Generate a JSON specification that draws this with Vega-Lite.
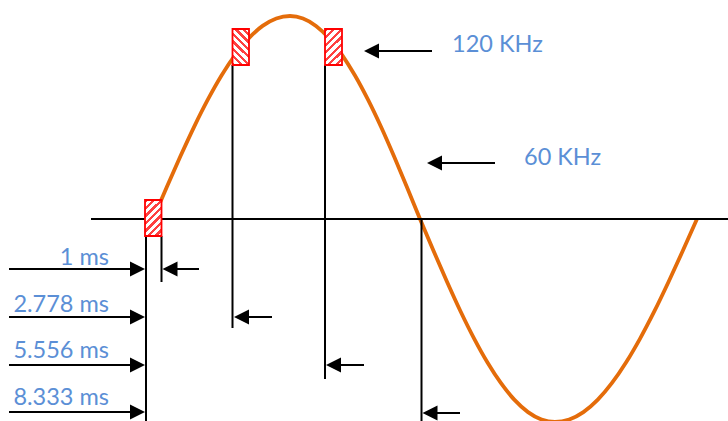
{
  "$schema": "https://vega.github.io/schema/vega-lite/v6.json",
  "width": 728,
  "height": 421,
  "autosize": {"type": "none"},
  "padding": 0,
  "background": "white",
  "config": {"view": {"stroke": null}},
  "datasets": {
    "curve": [
      {"x": 153, "y": 219}, {"x": 166.7, "y": 187.2}, {"x": 180.4, "y": 156.3}, {"x": 194.1, "y": 126.8},
      {"x": 207.8, "y": 99.7}, {"x": 221.5, "y": 75.5}, {"x": 235.2, "y": 54.8}, {"x": 248.9, "y": 38.1},
      {"x": 262.6, "y": 25.9}, {"x": 276.3, "y": 18.5}, {"x": 290, "y": 16},
      {"x": 303, "y": 18.5}, {"x": 316, "y": 25.9}, {"x": 329, "y": 38.1}, {"x": 342, "y": 54.8},
      {"x": 355, "y": 75.5}, {"x": 368, "y": 99.7}, {"x": 381, "y": 126.8}, {"x": 394, "y": 156.3},
      {"x": 407, "y": 187.2}, {"x": 420, "y": 219},
      {"x": 433.5, "y": 250.8}, {"x": 447, "y": 281.7}, {"x": 460.5, "y": 311.2}, {"x": 474, "y": 338.3},
      {"x": 487.5, "y": 362.5}, {"x": 501, "y": 383.2}, {"x": 514.5, "y": 399.9}, {"x": 528, "y": 412.1},
      {"x": 541.5, "y": 419.5}, {"x": 555, "y": 422},
      {"x": 569.2, "y": 419.5}, {"x": 583.4, "y": 412.1}, {"x": 597.6, "y": 399.9}, {"x": 611.8, "y": 383.2},
      {"x": 626, "y": 362.5}, {"x": 640.2, "y": 338.3}, {"x": 654.4, "y": 311.2}, {"x": 668.6, "y": 281.7},
      {"x": 682.8, "y": 250.8}, {"x": 697, "y": 219}
    ],
    "segs": [
      {"x": 91, "x2": 728, "y": 219, "y2": 219},
      {"x": 146, "x2": 146, "y": 236, "y2": 421},
      {"x": 161.5, "x2": 161.5, "y": 236, "y2": 282},
      {"x": 232.5, "x2": 232.5, "y": 65, "y2": 328},
      {"x": 325, "x2": 325, "y": 65, "y2": 379},
      {"x": 421.5, "x2": 421.5, "y": 219, "y2": 421},
      {"x": 9, "x2": 138, "y": 269, "y2": 269},
      {"x": 9, "x2": 138, "y": 317, "y2": 317},
      {"x": 9, "x2": 138, "y": 365, "y2": 365},
      {"x": 9, "x2": 138, "y": 412, "y2": 412},
      {"x": 170, "x2": 199, "y": 269, "y2": 269},
      {"x": 242, "x2": 272, "y": 317, "y2": 317},
      {"x": 334, "x2": 364, "y": 365, "y2": 365},
      {"x": 430, "x2": 460, "y": 413, "y2": 413},
      {"x": 372, "x2": 432, "y": 51, "y2": 51},
      {"x": 435, "x2": 495, "y": 163, "y2": 163}
    ],
    "headsR": [
      {"x": 145, "y": 269}, {"x": 145, "y": 317}, {"x": 145, "y": 365}, {"x": 145, "y": 412}
    ],
    "headsL": [
      {"x": 162.5, "y": 269}, {"x": 234, "y": 317}, {"x": 326, "y": 365}, {"x": 422.5, "y": 413},
      {"x": 364, "y": 51}, {"x": 427, "y": 163}
    ],
    "rectsA": [
      {"x": 145, "x2": 161.5, "y": 200, "y2": 236},
      {"x": 325, "x2": 342, "y": 29, "y2": 65}
    ],
    "rectsB": [
      {"x": 232.5, "x2": 249, "y": 29, "y2": 65}
    ],
    "labelsR": [
      {"x": 109, "y": 265, "text": "1 ms"},
      {"x": 109, "y": 312, "text": "2.778 ms"},
      {"x": 109, "y": 358, "text": "5.556 ms"},
      {"x": 109, "y": 405, "text": "8.333 ms"}
    ],
    "labelsL": [
      {"x": 452, "y": 52, "text": "120 KHz"},
      {"x": 524, "y": 165, "text": "60 KHz"}
    ]
  },
  "layer": [
    {
      "data": {"name": "curve"},
      "mark": {"type": "line", "color": "#E46C0A", "strokeWidth": 3.8, "interpolate": "monotone", "clip": false},
      "encoding": {
        "x": {"field": "x", "type": "quantitative", "scale": {"domain": [0, 728], "nice": false, "zero": false}, "axis": null},
        "y": {"field": "y", "type": "quantitative", "scale": {"domain": [0, 421], "nice": false, "zero": false, "reverse": true}, "axis": null},
        "order": {"field": "x", "type": "quantitative"}
      }
    },
    {
      "data": {"name": "segs"},
      "mark": {"type": "rule", "color": "black", "strokeWidth": 2},
      "encoding": {
        "x": {"field": "x", "type": "quantitative"},
        "x2": {"field": "x2"},
        "y": {"field": "y", "type": "quantitative"},
        "y2": {"field": "y2"}
      }
    },
    {
      "data": {"name": "rectsA"},
      "mark": {
        "type": "rect", "stroke": "#FF0000", "strokeWidth": 1.8,
        "fill": {
          "gradient": "linear", "x1": 0, "y1": 0, "x2": 0.552, "y2": 1.205,
          "stops": [
            {"offset": 0, "color": "#FF4040"}, {"offset": 0.06, "color": "#FF4040"},
            {"offset": 0.06, "color": "#FFFFFF"}, {"offset": 0.1429, "color": "#FFFFFF"},
            {"offset": 0.1429, "color": "#FF4040"}, {"offset": 0.2029, "color": "#FF4040"},
            {"offset": 0.2029, "color": "#FFFFFF"}, {"offset": 0.2857, "color": "#FFFFFF"},
            {"offset": 0.2857, "color": "#FF4040"}, {"offset": 0.3457, "color": "#FF4040"},
            {"offset": 0.3457, "color": "#FFFFFF"}, {"offset": 0.4286, "color": "#FFFFFF"},
            {"offset": 0.4286, "color": "#FF4040"}, {"offset": 0.4886, "color": "#FF4040"},
            {"offset": 0.4886, "color": "#FFFFFF"}, {"offset": 0.5714, "color": "#FFFFFF"},
            {"offset": 0.5714, "color": "#FF4040"}, {"offset": 0.6314, "color": "#FF4040"},
            {"offset": 0.6314, "color": "#FFFFFF"}, {"offset": 0.7143, "color": "#FFFFFF"},
            {"offset": 0.7143, "color": "#FF4040"}, {"offset": 0.7743, "color": "#FF4040"},
            {"offset": 0.7743, "color": "#FFFFFF"}, {"offset": 0.8571, "color": "#FFFFFF"},
            {"offset": 0.8571, "color": "#FF4040"}, {"offset": 0.9171, "color": "#FF4040"},
            {"offset": 0.9171, "color": "#FFFFFF"}, {"offset": 1, "color": "#FFFFFF"}
          ]
        }
      },
      "encoding": {
        "x": {"field": "x", "type": "quantitative"},
        "x2": {"field": "x2"},
        "y": {"field": "y", "type": "quantitative"},
        "y2": {"field": "y2"}
      }
    },
    {
      "data": {"name": "rectsB"},
      "mark": {
        "type": "rect", "stroke": "#FF0000", "strokeWidth": 1.8,
        "fill": {
          "gradient": "linear", "x1": 0, "y1": 1, "x2": 0.552, "y2": -0.205,
          "stops": [
            {"offset": 0, "color": "#FF4040"}, {"offset": 0.06, "color": "#FF4040"},
            {"offset": 0.06, "color": "#FFFFFF"}, {"offset": 0.1429, "color": "#FFFFFF"},
            {"offset": 0.1429, "color": "#FF4040"}, {"offset": 0.2029, "color": "#FF4040"},
            {"offset": 0.2029, "color": "#FFFFFF"}, {"offset": 0.2857, "color": "#FFFFFF"},
            {"offset": 0.2857, "color": "#FF4040"}, {"offset": 0.3457, "color": "#FF4040"},
            {"offset": 0.3457, "color": "#FFFFFF"}, {"offset": 0.4286, "color": "#FFFFFF"},
            {"offset": 0.4286, "color": "#FF4040"}, {"offset": 0.4886, "color": "#FF4040"},
            {"offset": 0.4886, "color": "#FFFFFF"}, {"offset": 0.5714, "color": "#FFFFFF"},
            {"offset": 0.5714, "color": "#FF4040"}, {"offset": 0.6314, "color": "#FF4040"},
            {"offset": 0.6314, "color": "#FFFFFF"}, {"offset": 0.7143, "color": "#FFFFFF"},
            {"offset": 0.7143, "color": "#FF4040"}, {"offset": 0.7743, "color": "#FF4040"},
            {"offset": 0.7743, "color": "#FFFFFF"}, {"offset": 0.8571, "color": "#FFFFFF"},
            {"offset": 0.8571, "color": "#FF4040"}, {"offset": 0.9171, "color": "#FF4040"},
            {"offset": 0.9171, "color": "#FFFFFF"}, {"offset": 1, "color": "#FFFFFF"}
          ]
        }
      },
      "encoding": {
        "x": {"field": "x", "type": "quantitative"},
        "x2": {"field": "x2"},
        "y": {"field": "y", "type": "quantitative"},
        "y2": {"field": "y2"}
      }
    },
    {
      "data": {"name": "headsR"},
      "mark": {"type": "point", "shape": "M0,0L-1,-0.5L-1,0.5Z", "size": 900, "filled": true, "color": "black", "opacity": 1, "strokeWidth": 0},
      "encoding": {
        "x": {"field": "x", "type": "quantitative"},
        "y": {"field": "y", "type": "quantitative"}
      }
    },
    {
      "data": {"name": "headsL"},
      "mark": {"type": "point", "shape": "M0,0L1,-0.5L1,0.5Z", "size": 900, "filled": true, "color": "black", "opacity": 1, "strokeWidth": 0},
      "encoding": {
        "x": {"field": "x", "type": "quantitative"},
        "y": {"field": "y", "type": "quantitative"}
      }
    },
    {
      "data": {"name": "labelsR"},
      "mark": {"type": "text", "font": "Lato", "fontSize": 23.5, "color": "#5B8FD6", "baseline": "alphabetic", "align": "right"},
      "encoding": {
        "x": {"field": "x", "type": "quantitative"},
        "y": {"field": "y", "type": "quantitative"},
        "text": {"field": "text"}
      }
    },
    {
      "data": {"name": "labelsL"},
      "mark": {"type": "text", "font": "Lato", "fontSize": 23.5, "color": "#5B8FD6", "baseline": "alphabetic", "align": "left"},
      "encoding": {
        "x": {"field": "x", "type": "quantitative"},
        "y": {"field": "y", "type": "quantitative"},
        "text": {"field": "text"}
      }
    }
  ]
}
